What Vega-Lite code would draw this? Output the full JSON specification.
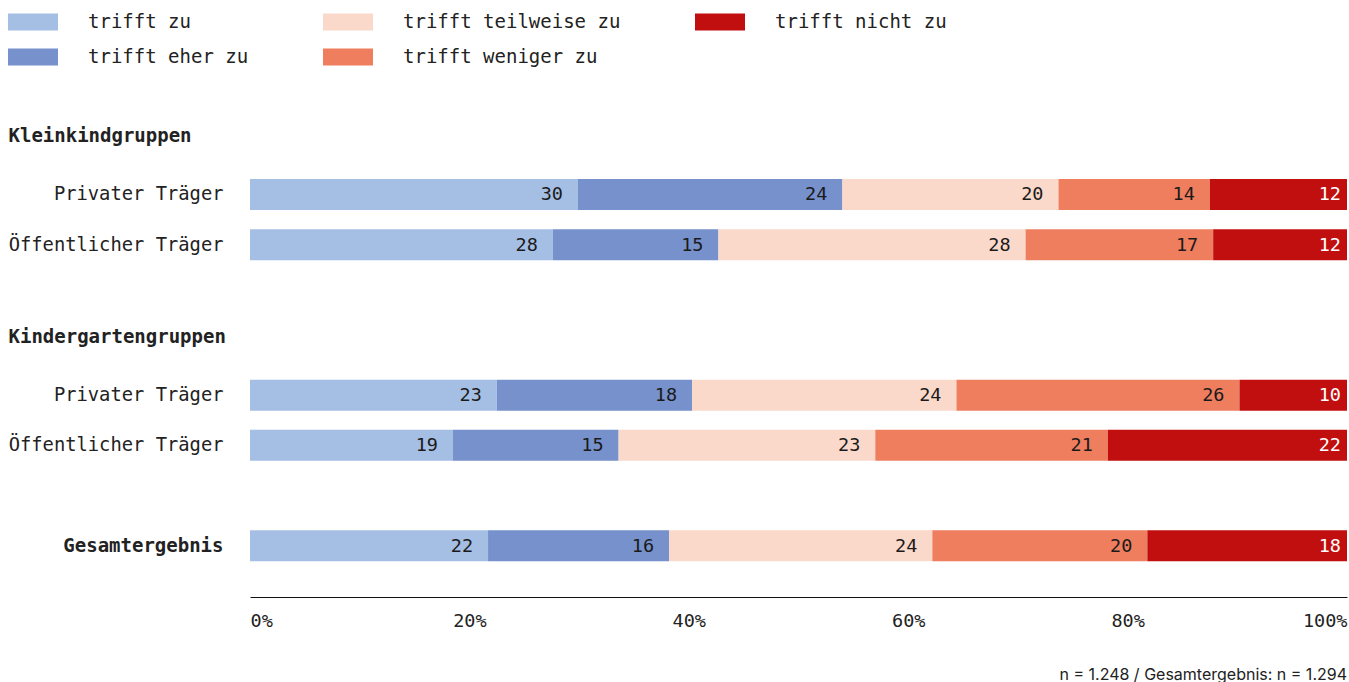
{
  "$schema": "https://vega.github.io/schema/vega-lite/v6.json",
  "width": 1097,
  "height": 504,
  "autosize": {"type": "none"},
  "padding": {"left": 250, "top": 93, "right": 2, "bottom": 85},
  "background": "white",
  "config": {"view": {"stroke": null}},
  "title": {
    "text": "n = 1.248 / Gesamtergebnis: n = 1.294",
    "orient": "bottom",
    "anchor": "end",
    "font": "Inter",
    "fontSize": 16,
    "fontWeight": "normal",
    "color": "#222",
    "offset": 37
  },
  "data": {
    "values": [
      {"row": "K|Privater Träger", "cat": "trifft zu", "k": 1, "v": 29.9, "lab": "30"},
      {"row": "K|Privater Träger", "cat": "trifft eher zu", "k": 2, "v": 24.1, "lab": "24"},
      {"row": "K|Privater Träger", "cat": "trifft teilweise zu", "k": 3, "v": 19.7, "lab": "20"},
      {"row": "K|Privater Träger", "cat": "trifft weniger zu", "k": 4, "v": 13.8, "lab": "14"},
      {"row": "K|Privater Träger", "cat": "trifft nicht zu", "k": 5, "v": 12.5, "lab": "12"},
      {"row": "K|Öffentlicher Träger", "cat": "trifft zu", "k": 1, "v": 27.6, "lab": "28"},
      {"row": "K|Öffentlicher Träger", "cat": "trifft eher zu", "k": 2, "v": 15.1, "lab": "15"},
      {"row": "K|Öffentlicher Träger", "cat": "trifft teilweise zu", "k": 3, "v": 28.0, "lab": "28"},
      {"row": "K|Öffentlicher Träger", "cat": "trifft weniger zu", "k": 4, "v": 17.1, "lab": "17"},
      {"row": "K|Öffentlicher Träger", "cat": "trifft nicht zu", "k": 5, "v": 12.2, "lab": "12"},
      {"row": "G|Privater Träger", "cat": "trifft zu", "k": 1, "v": 22.5, "lab": "23"},
      {"row": "G|Privater Träger", "cat": "trifft eher zu", "k": 2, "v": 17.8, "lab": "18"},
      {"row": "G|Privater Träger", "cat": "trifft teilweise zu", "k": 3, "v": 24.1, "lab": "24"},
      {"row": "G|Privater Träger", "cat": "trifft weniger zu", "k": 4, "v": 25.8, "lab": "26"},
      {"row": "G|Privater Träger", "cat": "trifft nicht zu", "k": 5, "v": 9.8, "lab": "10"},
      {"row": "G|Öffentlicher Träger", "cat": "trifft zu", "k": 1, "v": 18.5, "lab": "19"},
      {"row": "G|Öffentlicher Träger", "cat": "trifft eher zu", "k": 2, "v": 15.1, "lab": "15"},
      {"row": "G|Öffentlicher Träger", "cat": "trifft teilweise zu", "k": 3, "v": 23.4, "lab": "23"},
      {"row": "G|Öffentlicher Träger", "cat": "trifft weniger zu", "k": 4, "v": 21.2, "lab": "21"},
      {"row": "G|Öffentlicher Träger", "cat": "trifft nicht zu", "k": 5, "v": 21.8, "lab": "22"},
      {"row": "Gesamtergebnis", "cat": "trifft zu", "k": 1, "v": 21.7, "lab": "22"},
      {"row": "Gesamtergebnis", "cat": "trifft eher zu", "k": 2, "v": 16.5, "lab": "16"},
      {"row": "Gesamtergebnis", "cat": "trifft teilweise zu", "k": 3, "v": 24.0, "lab": "24"},
      {"row": "Gesamtergebnis", "cat": "trifft weniger zu", "k": 4, "v": 19.6, "lab": "20"},
      {"row": "Gesamtergebnis", "cat": "trifft nicht zu", "k": 5, "v": 18.2, "lab": "18"}
    ]
  },
  "transform": [
    {"stack": "v", "groupby": ["row"], "sort": [{"field": "k", "order": "ascending"}], "as": ["x0", "x1"]}
  ],
  "encoding": {
    "y": {
      "field": "row",
      "type": "nominal",
      "scale": {
        "domain": ["Kleinkindgruppen", "K|Privater Träger", "K|Öffentlicher Träger", "s1", "Kindergartengruppen", "G|Privater Träger", "G|Öffentlicher Träger", "s2", "Gesamtergebnis"],
        "paddingInner": 0.382,
        "paddingOuter": 0.713
      },
      "axis": {
        "title": null,
        "domain": false,
        "ticks": false,
        "grid": false,
        "labelFont": "DejaVu Sans Mono",
        "labelColor": "#222",
        "labelLimit": 400,
        "labelExpr": "indexof(datum.value,'|') >= 0 ? split(datum.value,'|')[1] : ((datum.value == 's1' || datum.value == 's2') ? '' : datum.value)",
        "labelAlign": {"condition": {"test": "datum.value == 'Kleinkindgruppen' || datum.value == 'Kindergartengruppen'", "value": "left"}, "value": "right"},
        "labelPadding": {"condition": {"test": "datum.value == 'Kleinkindgruppen' || datum.value == 'Kindergartengruppen'", "value": 242}, "value": 27},
        "labelOffset": {"condition": {"test": "datum.value == 'Kleinkindgruppen' || datum.value == 'Kindergartengruppen'", "value": -8}, "value": 0},
        "labelFontSize": {"condition": {"test": "datum.value == 'Kleinkindgruppen' || datum.value == 'Kindergartengruppen' || datum.value == 'Gesamtergebnis'", "value": 19}, "value": 18.8},
        "labelFontWeight": {"condition": {"test": "datum.value == 'Kleinkindgruppen' || datum.value == 'Kindergartengruppen' || datum.value == 'Gesamtergebnis'", "value": "bold"}, "value": "normal"}
      }
    }
  },
  "layer": [
    {
      "mark": {"type": "bar"},
      "encoding": {
        "x": {
          "field": "x0",
          "type": "quantitative",
          "scale": {"domain": [0, 100], "nice": false},
          "axis": {
            "title": null,
            "values": [0, 20, 40, 60, 80, 100],
            "labelExpr": "datum.value + '%'",
            "labelFlush": true,
            "ticks": false,
            "grid": false,
            "domain": true,
            "domainColor": "#111",
            "domainWidth": 1.2,
            "labelPadding": 14,
            "labelFont": "DejaVu Sans Mono",
            "labelFontSize": 18.5,
            "labelColor": "#222"
          }
        },
        "x2": {"field": "x1"},
        "color": {
          "field": "cat",
          "type": "nominal",
          "scale": {
            "domain": ["trifft zu", "trifft teilweise zu", "trifft nicht zu", "trifft eher zu", "trifft weniger zu"],
            "range": ["#a5bee3", "#fad9ca", "#c10f0f", "#7691cb", "#ef7e5f"]
          },
          "legend": {
            "orient": "none",
            "legendX": -242,
            "legendY": -96,
            "direction": "horizontal",
            "columns": 3,
            "title": null,
            "symbolType": "M-1,-0.34L1,-0.34L1,0.34L-1,0.34Z",
            "symbolSize": 2500,
            "symbolStrokeWidth": 0,
            "symbolOpacity": 1,
            "labelFont": "DejaVu Sans Mono",
            "labelFontSize": 19,
            "labelColor": "#222",
            "labelOffset": 30,
            "labelLimit": 400,
            "columnPadding": 74,
            "rowPadding": -2
          }
        }
      }
    },
    {
      "transform": [{"filter": "datum.k < 5"}],
      "mark": {"type": "text", "align": "right", "baseline": "middle", "dx": -15, "font": "DejaVu Sans Mono", "fontSize": 18.5},
      "encoding": {
        "x": {"field": "x1", "type": "quantitative"},
        "text": {"field": "lab"},
        "color": {"value": "#1a1a1a"}
      }
    },
    {
      "transform": [{"filter": "datum.k == 5"}],
      "mark": {"type": "text", "align": "right", "baseline": "middle", "dx": -6, "font": "DejaVu Sans Mono", "fontSize": 18.5},
      "encoding": {
        "x": {"field": "x1", "type": "quantitative"},
        "text": {"field": "lab"},
        "color": {"value": "white"}
      }
    }
  ]
}
